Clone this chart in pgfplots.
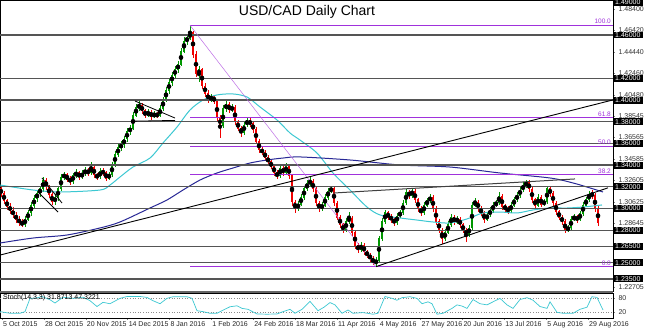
\documentclass[border=0pt]{standalone}
\usepackage{pgfplots}
\pgfplotsset{compat=1.18}
\usepackage{pgfplotstable}
\usepackage{fontspec}
\setmainfont{Liberation Sans}

\definecolor{cup}{RGB}{0,150,0}
\definecolor{cdn}{RGB}{240,0,0}
\definecolor{macyan}{RGB}{60,200,210}
\definecolor{mablue}{RGB}{40,40,150}
\definecolor{hl}{RGB}{85,85,85}
\definecolor{fib}{RGB}{160,50,220}
\definecolor{fibdiag}{RGB}{190,110,230}

\pgfplotstableread{
x o h l c
1 1.318 1.320 1.311 1.314
4 1.314 1.316 1.304 1.307
7 1.307 1.309 1.299 1.302
10 1.302 1.305 1.295 1.298
13 1.298 1.301 1.291 1.294
16 1.294 1.297 1.287 1.290
19 1.290 1.293 1.284 1.287
22 1.287 1.290 1.2832 1.285
25 1.285 1.293 1.283 1.290
28 1.290 1.299 1.288 1.296
31 1.296 1.306 1.293 1.303
34 1.303 1.312 1.300 1.309
37 1.309 1.317 1.306 1.314
40 1.314 1.321 1.311 1.318
43 1.318 1.329 1.315 1.326
46 1.326 1.328 1.317 1.320
49 1.320 1.322 1.310 1.313
52 1.313 1.315 1.303 1.306
55 1.306 1.313 1.303 1.310
58 1.310 1.321 1.307 1.318
61 1.318 1.332 1.316 1.329
64 1.329 1.334 1.326 1.331
67 1.331 1.333 1.324 1.327
70 1.327 1.330 1.322 1.325
73 1.325 1.333 1.323 1.330
76 1.330 1.336 1.328 1.333
79 1.333 1.335 1.326 1.329
82 1.329 1.335 1.327 1.332
85 1.332 1.338 1.330 1.335
88 1.335 1.337 1.330 1.333
91 1.333 1.343 1.331 1.338
94 1.338 1.340 1.328 1.331
97 1.331 1.333 1.326 1.329
100 1.329 1.337 1.327 1.334
103 1.334 1.337 1.330 1.333
106 1.333 1.335 1.325 1.328
109 1.328 1.334 1.326 1.331
112 1.331 1.343 1.329 1.340
115 1.340 1.353 1.338 1.350
118 1.350 1.359 1.347 1.356
121 1.356 1.362 1.353 1.359
124 1.359 1.367 1.356 1.364
127 1.364 1.374 1.361 1.371
130 1.371 1.377 1.368 1.374
133 1.374 1.389 1.372 1.386
136 1.386 1.396 1.384 1.393
139 1.393 1.399 1.390 1.395
142 1.395 1.397 1.387 1.390
145 1.390 1.392 1.383 1.386
148 1.386 1.392 1.384 1.389
151 1.389 1.391 1.382 1.385
154 1.385 1.390 1.383 1.387
157 1.387 1.389 1.383 1.386
160 1.386 1.395 1.384 1.392
163 1.392 1.403 1.390 1.400
166 1.400 1.412 1.398 1.409
169 1.409 1.419 1.406 1.416
172 1.416 1.426 1.413 1.423
175 1.423 1.431 1.420 1.428
178 1.428 1.436 1.425 1.433
181 1.433 1.448 1.431 1.445
184 1.445 1.458 1.443 1.454
187 1.454 1.461 1.451 1.457
190 1.457 1.469 1.455 1.462
193 1.462 1.464 1.439 1.442
196 1.442 1.445 1.421 1.424
199 1.424 1.431 1.417 1.428
202 1.428 1.430 1.410 1.413
205 1.413 1.416 1.403 1.406
208 1.406 1.409 1.397 1.400
211 1.400 1.406 1.398 1.403
214 1.403 1.405 1.396 1.399
217 1.399 1.401 1.381 1.384
220 1.384 1.386 1.365 1.376
223 1.376 1.395 1.374 1.392
226 1.392 1.399 1.389 1.396
229 1.396 1.398 1.388 1.391
232 1.391 1.396 1.389 1.393
235 1.393 1.395 1.377 1.380
238 1.380 1.382 1.371 1.374
241 1.374 1.376 1.366 1.370
244 1.370 1.380 1.368 1.377
247 1.377 1.384 1.375 1.381
250 1.381 1.383 1.375 1.378
253 1.378 1.380 1.370 1.373
256 1.373 1.375 1.359 1.362
259 1.362 1.364 1.351 1.354
262 1.354 1.357 1.349 1.352
265 1.352 1.354 1.344 1.347
268 1.347 1.349 1.340 1.343
271 1.343 1.345 1.336 1.339
274 1.339 1.341 1.330 1.333
277 1.333 1.335 1.327 1.330
280 1.330 1.340 1.328 1.337
283 1.337 1.339 1.330 1.333
286 1.333 1.342 1.331 1.339
289 1.339 1.341 1.327 1.330
292 1.330 1.332 1.302 1.306
295 1.306 1.308 1.296 1.300
298 1.300 1.307 1.298 1.304
301 1.304 1.313 1.302 1.310
304 1.310 1.321 1.308 1.318
307 1.318 1.326 1.316 1.323
310 1.323 1.329 1.320 1.325
313 1.325 1.327 1.315 1.318
316 1.318 1.320 1.302 1.305
319 1.305 1.307 1.297 1.300
322 1.300 1.306 1.298 1.303
325 1.303 1.313 1.301 1.310
328 1.310 1.319 1.308 1.316
331 1.316 1.321 1.314 1.318
334 1.318 1.320 1.302 1.305
337 1.305 1.307 1.289 1.292
340 1.292 1.294 1.282 1.285
343 1.285 1.287 1.277 1.280
346 1.280 1.291 1.278 1.288
349 1.288 1.297 1.286 1.291
352 1.291 1.293 1.275 1.278
355 1.278 1.280 1.263 1.266
358 1.266 1.268 1.259 1.262
361 1.262 1.269 1.260 1.266
364 1.266 1.268 1.257 1.260
367 1.260 1.262 1.254 1.257
370 1.257 1.259 1.251 1.254
373 1.254 1.256 1.248 1.250
376 1.250 1.255 1.2461 1.252
379 1.252 1.275 1.250 1.272
382 1.272 1.291 1.270 1.288
385 1.288 1.299 1.286 1.296
388 1.296 1.298 1.289 1.292
391 1.292 1.295 1.287 1.290
394 1.290 1.292 1.284 1.287
397 1.287 1.296 1.285 1.293
400 1.293 1.299 1.291 1.296
403 1.296 1.308 1.294 1.305
406 1.305 1.318 1.303 1.315
409 1.315 1.317 1.309 1.312
412 1.312 1.319 1.310 1.316
415 1.316 1.318 1.305 1.308
418 1.308 1.310 1.297 1.300
421 1.300 1.302 1.293 1.296
424 1.296 1.306 1.294 1.303
427 1.303 1.310 1.301 1.307
430 1.307 1.313 1.305 1.310
433 1.310 1.312 1.297 1.300
436 1.300 1.302 1.285 1.288
439 1.288 1.290 1.277 1.280
442 1.280 1.282 1.267 1.272
445 1.272 1.281 1.270 1.278
448 1.278 1.288 1.276 1.285
451 1.285 1.295 1.283 1.292
454 1.292 1.294 1.285 1.288
457 1.288 1.293 1.286 1.290
460 1.290 1.292 1.282 1.285
463 1.285 1.287 1.277 1.280
466 1.280 1.282 1.269 1.276
469 1.276 1.285 1.274 1.282
472 1.282 1.306 1.280 1.303
475 1.303 1.310 1.301 1.306
478 1.306 1.308 1.297 1.300
481 1.300 1.302 1.293 1.296
484 1.296 1.298 1.287 1.290
487 1.290 1.297 1.288 1.294
490 1.294 1.301 1.292 1.298
493 1.298 1.306 1.296 1.303
496 1.303 1.308 1.301 1.305
499 1.305 1.315 1.303 1.311
502 1.311 1.313 1.299 1.302
505 1.302 1.304 1.297 1.300
508 1.300 1.302 1.295 1.298
511 1.298 1.306 1.296 1.303
514 1.303 1.311 1.301 1.308
517 1.308 1.315 1.306 1.312
520 1.312 1.320 1.310 1.317
523 1.317 1.324 1.315 1.321
526 1.321 1.326 1.319 1.324
529 1.324 1.326 1.315 1.318
532 1.318 1.320 1.305 1.308
535 1.308 1.310 1.300 1.303
538 1.303 1.313 1.301 1.310
541 1.310 1.312 1.301 1.304
544 1.304 1.309 1.302 1.306
547 1.306 1.321 1.304 1.318
550 1.318 1.320 1.311 1.314
553 1.314 1.316 1.302 1.305
556 1.305 1.307 1.294 1.297
559 1.297 1.299 1.289 1.292
562 1.292 1.294 1.285 1.288
565 1.288 1.290 1.277 1.280
568 1.280 1.285 1.278 1.282
571 1.282 1.293 1.280 1.290
574 1.290 1.295 1.288 1.292
577 1.292 1.294 1.287 1.290
580 1.290 1.298 1.288 1.295
583 1.295 1.306 1.293 1.303
586 1.303 1.311 1.301 1.308
589 1.308 1.316 1.306 1.313
592 1.313 1.317 1.309 1.312
595 1.312 1.314 1.297 1.300
598 1.300 1.302 1.284 1.287
}\candles

\begin{document}
\begin{tikzpicture}[x=1pt,y=1pt]
\useasboundingbox (0,0) rectangle (645,329);
\fill[white] (0,0) rectangle (645,329);
\begin{axis}[
 at={(0pt,38pt)}, anchor=south west, scale only axis,
 width=613pt, height=291pt,
 xmin=0, xmax=613, ymin=1.22384, ymax=1.49229,
 axis line style={black, line width=0.5pt},
 xtick=\empty,
 ytick pos=right, tick align=outside, major tick length=2pt,
 ytick={1.22705,1.28645,1.30625,1.32605,1.34585,1.36565,1.38545,1.40480,1.42460,1.44440,1.46420,1.48400},
 scaled y ticks=false,
 /pgf/number format/assume math mode=true,
 yticklabel={\pgfmathprintnumber[fixed,fixed zerofill,precision=5]{\tick}},
 y tick label style={font=\fontsize{7}{8}\selectfont, text=black!80},
 extra y ticks={1.49,1.46,1.42,1.40,1.38,1.36,1.34,1.32,1.30,1.28,1.265,1.25,1.235},
 extra y tick style={major tick length=0pt, yticklabel style={fill=black, text=white, inner xsep=2pt, inner ysep=1pt}},
 clip=true,
]
% candles: wicks and bodies
\addplot[only marks, mark=none, forget plot,
  x filter/.expression={\thisrow{c}>=\thisrow{o} ? x : nan},
  error bars/.cd, y dir=both, y explicit, error mark=none,
  error bar style={draw=cup, line width=0.5pt}]
  table[x=x, y expr={(\thisrow{h}+\thisrow{l})/2}, y error expr={(\thisrow{h}-\thisrow{l})/2}] {\candles};
\addplot[only marks, mark=none, forget plot,
  x filter/.expression={\thisrow{c}<\thisrow{o} ? x : nan},
  error bars/.cd, y dir=both, y explicit, error mark=none,
  error bar style={draw=cdn, line width=0.5pt}]
  table[x=x, y expr={(\thisrow{h}+\thisrow{l})/2}, y error expr={(\thisrow{h}-\thisrow{l})/2}] {\candles};
\addplot[only marks, mark=none, forget plot,
  x filter/.expression={\thisrow{c}>=\thisrow{o} ? x : nan},
  error bars/.cd, y dir=both, y explicit, error mark=none,
  error bar style={draw=cup, line width=1.7pt}]
  table[x=x, y expr={(\thisrow{o}+\thisrow{c})/2}, y error expr={abs(\thisrow{c}-\thisrow{o})/2+0.0004}] {\candles};
\addplot[only marks, mark=none, forget plot,
  x filter/.expression={\thisrow{c}<\thisrow{o} ? x : nan},
  error bars/.cd, y dir=both, y explicit, error mark=none,
  error bar style={draw=cdn, line width=1.7pt}]
  table[x=x, y expr={(\thisrow{o}+\thisrow{c})/2}, y error expr={abs(\thisrow{c}-\thisrow{o})/2+0.0004}] {\candles};

% moving averages
\addplot[macyan, line width=1pt, smooth] coordinates {(0,1.3216) (33,1.317) (60,1.3152) (100,1.317) (110,1.3216) (120,1.329) (133,1.3382) (150,1.3465) (163,1.3604) (177,1.3751) (190,1.3908) (203,1.4) (217,1.4047) (233,1.4056) (247,1.4028) (260,1.3936) (277,1.3816) (290,1.3696) (300,1.3631) (317,1.3511) (333,1.3327) (350,1.317) (367,1.3013) (380,1.294) (400,1.2912) (417,1.2893) (433,1.2875) (450,1.2866) (467,1.2903) (483,1.2958) (500,1.2967) (517,1.2958) (533,1.2986) (550,1.3004) (567,1.3004) (583,1.3013) (602,1.3032)};
\addplot[mablue, line width=1pt, smooth] coordinates {(0,1.2681) (33,1.2727) (67,1.2755) (100,1.2820) (120,1.2875) (150,1.3004) (167,1.3078) (183,1.3170) (200,1.3262) (217,1.3327) (233,1.3373) (250,1.3419) (267,1.3447) (283,1.3465) (300,1.3475) (350,1.3447) (400,1.3401) (450,1.3382) (500,1.3327) (550,1.3281) (573,1.3235) (590,1.3189) (603,1.3152)};

% horizontal levels
\pgfplotsinvokeforeach{1.46,1.42,1.40,1.38,1.36,1.34,1.32,1.30,1.28,1.265,1.25,1.235}{
  \addplot[hl, line width=1.2pt] coordinates {(0,#1) (613,#1)};
}
% fibonacci
\pgfplotsinvokeforeach{1.469,1.3838,1.3575,1.3312,1.2461}{
  \addplot[fib, line width=0.9pt] coordinates {(190,#1) (613,#1)};
}
\addplot[fibdiag, line width=0.5pt] coordinates {(190,1.469) (376,1.2461)};
\node[anchor=south east, text=fib, font=\fontsize{6.5}{7}\selectfont, inner sep=1pt] at (axis cs:612,1.469) {100.0};
\node[anchor=south east, text=fib, font=\fontsize{6.5}{7}\selectfont, inner sep=1pt] at (axis cs:612,1.3838) {61.8};
\node[anchor=south east, text=fib, font=\fontsize{6.5}{7}\selectfont, inner sep=1pt] at (axis cs:612,1.3575) {50.0};
\node[anchor=south east, text=fib, font=\fontsize{6.5}{7}\selectfont, inner sep=1pt] at (axis cs:612,1.3312) {38.2};
\node[anchor=south east, text=fib, font=\fontsize{6.5}{7}\selectfont, inner sep=1pt] at (axis cs:612,1.2461) {0.0};

% trendlines
\addplot[black, line width=0.9pt] coordinates {(0,1.2570) (613,1.4001)};
\addplot[black, line width=0.9pt] coordinates {(376,1.2463) (608,1.3190)};
\addplot[black!75, line width=1pt] coordinates {(333,1.3142) (575,1.3272)};
\addplot[black, line width=0.8pt] coordinates {(42,1.3281) (62,1.3050)};
\addplot[black, line width=0.8pt] coordinates {(38,1.3152) (58,1.2967)};
\addplot[black, line width=0.8pt] coordinates {(135,1.3991) (175,1.3834)};
\addplot[black, line width=0.8pt] coordinates {(133,1.3805) (175,1.3812)};
\end{axis}

\draw[black!60, line width=1.6pt] (0,37) -- (613,37);

\begin{axis}[
 at={(0pt,11pt)}, anchor=south west, scale only axis,
 width=613pt, height=25pt,
 xmin=0, xmax=613, ymin=-4.3, ymax=103,
 axis line style={black, line width=0.5pt},
 ytick={20,80}, ytick pos=right, tick align=outside, major tick length=2pt,
 /pgf/number format/assume math mode=true,
 y tick label style={font=\fontsize{7}{8}\selectfont, text=black!80},
 xtick={2,43.85,85.7,127.55,169.4,211.25,253.1,294.95,336.8,378.65,420.5,462.35,504.2,546.05,587.9},
 xticklabels={5 Oct 2015, 28 Oct 2015, 20 Nov 2015, 14 Dec 2015, 8 Jan 2016, 1 Feb 2016, 24 Feb 2016, 18 Mar 2016, 11 Apr 2016, 4 May 2016, 27 May 2016, 20 Jun 2016, 13 Jul 2016, 5 Aug 2016, 29 Aug 2016},
 xtick pos=bottom,
 x tick label style={anchor=north west, inner sep=1pt, font=\fontsize{7}{8}\selectfont, text=black!85},
 clip=true,
]
\addplot[black!45, dotted, line width=0.6pt] coordinates {(0,20) (613,20)};
\addplot[black!45, dotted, line width=0.6pt] coordinates {(0,80) (613,80)};
\addplot[macyan, line width=0.7pt] coordinates {(0,23) (10,16) (20,16) (25,23) (30,80) (37,82) (42,88) (50,74) (55,60) (63,85) (73,80) (83,85) (90,70) (97,45) (103,63) (110,57) (120,80) (127,88) (140,88) (147,84) (153,70) (160,57) (167,80) (173,87) (187,87) (192,80) (197,27) (203,23) (210,16) (217,16) (222,27) (230,44) (237,48) (242,37) (248,33) (257,13) (267,12) (277,13) (283,23) (290,33) (295,16) (302,33) (310,67) (318,27) (324,42) (330,62) (335,52) (342,16) (348,30) (353,16) (363,19) (373,12) (378,16) (385,88) (392,80) (397,72) (402,83) (410,87) (417,80) (422,57) (428,65) (432,57) (437,12) (443,16) (452,37) (457,52) (462,47) (467,37) (473,75) (480,57) (487,52) (493,65) (500,80) (507,52) (513,37) (520,75) (527,83) (533,72) (540,45) (547,37) (550,65) (557,20) (563,16) (573,16) (580,33) (587,42) (592,87) (597,84) (603,30)};
\end{axis}

\node[font=\fontsize{14}{16}\selectfont] at (307,317) {USD/CAD Daily Chart};
\node[anchor=west, font=\fontsize{7}{8}\selectfont, inner sep=0pt] at (3,31) {Stoch(14,3,3) 31.8713 47.3221};
\end{tikzpicture}
\end{document}
